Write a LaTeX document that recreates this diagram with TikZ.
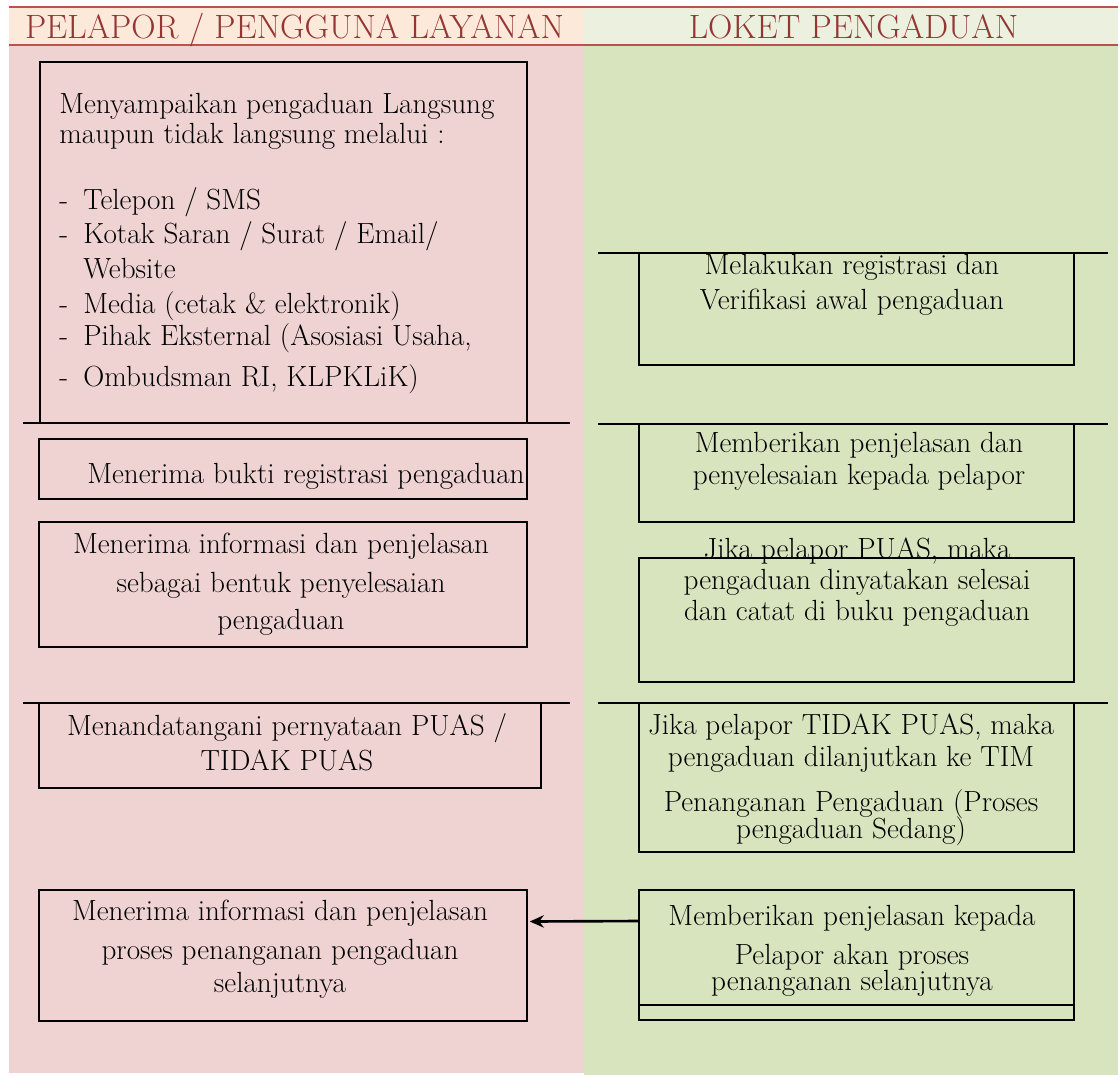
\documentclass[tikz,border=0pt]{standalone}
\usepackage{fontspec}
\usetikzlibrary{arrows.meta,fit}
\definecolor{hdrred}{HTML}{C0504D}
\definecolor{hdrtext}{HTML}{943634}
\definecolor{hdrleft}{HTML}{FDE9D9}
\definecolor{hdrright}{HTML}{EBF1DE}
\definecolor{laneleft}{HTML}{EFD3D2}
\definecolor{laneright}{HTML}{D7E4BD}
\begin{document}
\begin{tikzpicture}[x=0.02cm,y=-0.02cm,
    box/.style={draw,line width=1.1pt,inner sep=0pt},
    txt/.style={align=center,inner sep=0pt,font=\fontsize{16.6}{17.5}\selectfont},
    lane/.style={font=\fontsize{19.2}{21}\selectfont,text=hdrtext,inner sep=0pt,anchor=base},
    rule/.style={line width=1.1pt}]
  \useasboundingbox (0,0) rectangle (1118,1075);
  \fill[laneleft] (9,45) rectangle (584,1073);
  \fill[laneright] (584,45) rectangle (1118,1075);
  \fill[hdrleft] (9,7) rectangle (584,45);
  \fill[hdrright] (584,7) rectangle (1118,45);
  \draw[hdrred,line width=1.2pt] (9,7) -- (1118,7) (9,45) -- (1118,45);
  \node[lane] (pelapor) at (294.5,38) {PELAPOR / PENGGUNA LAYANAN};
  \node[lane] (loket) at (853.5,38) {LOKET PENGADUAN};

  \draw[rule] (23,423) -- (570,423) (23,703) -- (570,703);
  \draw[rule] (598,253) -- (1108,253) (598,424) -- (1108,424) (598,703) -- (1108,703);

  \node[box,fit={(40,62) (527,423)}] (l1) {};
  \node[box,fit={(39,439) (527,499)}] (l2) {};
  \node[box,fit={(39,522) (527,647)}] (l3) {};
  \node[box,fit={(39,703) (541,788)}] (l4) {};
  \node[box,fit={(39,890) (527,1021)}] (l5) {};
  \node[box,fit={(639,253) (1074,365)}] (r1) {};
  \node[box,fit={(639,424) (1074,522)}] (r2) {};
  \node[box,fit={(639,558) (1074,682)}] (r3) {};
  \node[box,fit={(639,703) (1074,852)}] (r4) {};
  \node[box,fit={(639,890) (1074,1020)}] (r5) {};
  \draw[rule] ([yshift=0.32cm]r5.south west) -- ([yshift=0.32cm]r5.south east);

  \node[txt,align=left,anchor=north west] (t-l1) at (59,93) {Menyampaikan pengaduan Langsung\\[-0.02cm]
    maupun tidak langsung melalui :\\[0.7cm]
    \makebox[0.48cm][l]{-}Telepon / SMS\\[0.08cm]
    \makebox[0.48cm][l]{-}Kotak Saran / Surat / Email/\\[0.08cm]
    \hspace*{0.48cm}Website\\[0.08cm]
    \makebox[0.48cm][l]{-}Media (cetak \& elektronik)\\[0.02cm]
    \makebox[0.48cm][l]{-}Pihak Eksternal (Asosiasi Usaha,\\[0.22cm]
    \makebox[0.48cm][l]{-}Ombudsman RI, KLPKLiK)};
  \node[txt] (t-l2) at (306,476) {Menerima bukti registrasi pengaduan};
  \node[txt] (t-l3) at (281,584) {Menerima informasi dan penjelasan\\[0.18cm] sebagai bentuk penyelesaian\\[0.12cm] pengaduan};
  \node[txt] (t-l4) at (287,742) {Menandatangani pernyataan PUAS /\\[0.08cm] TIDAK PUAS};
  \node[txt] (t-l5) at (280,949) {Menerima informasi dan penjelasan\\[0.16cm] proses penanganan pengaduan\\[0.04cm] selanjutnya};
  \node[txt] (t-r1) at (852,285) {Melakukan registrasi dan\\[0.08cm] Verifikasi awal pengaduan};
  \node[txt] (t-r2) at (859,461) {Memberikan penjelasan dan\\[0.02cm] penyelesaian kepada pelapor};
  \node[txt] (t-r3) at (857,582) {Jika pelapor PUAS, maka\\ pengaduan dinyatakan selesai\\ dan catat di buku pengaduan};
  \node[txt] (t-r4) at (851,780) {Jika pelapor TIDAK PUAS, maka\\[0.02cm] pengaduan dilanjutkan ke TIM\\[0.28cm] Penanganan Pengaduan (Proses\\[-0.06cm] pengaduan Sedang)};
  \node[txt] (t-r5) at (852,951) {Memberikan penjelasan kepada\\[0.16cm] Pelapor akan proses\\[-0.08cm] penanganan selanjutnya};

  \draw[line width=1.5pt,-{Stealth[length=8pt,width=7pt]},shorten >=1pt] ([yshift=0.68cm]r5.west) -- ([yshift=0.68cm]l5.east);
\end{tikzpicture}
\end{document}
